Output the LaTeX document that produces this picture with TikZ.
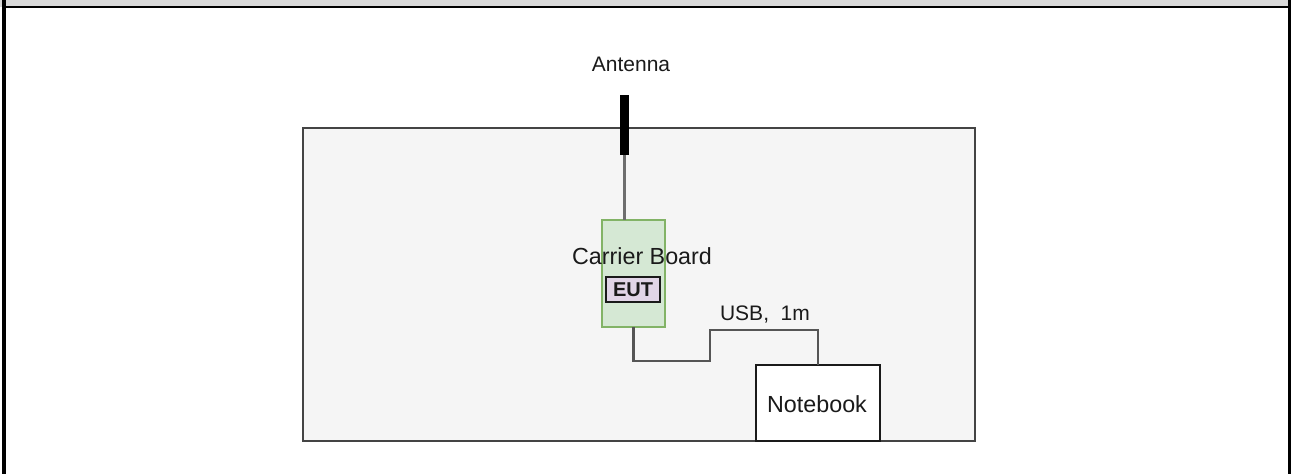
\documentclass[tikz,border=0pt]{standalone}
\usepackage{fontspec}
\setmainfont{Liberation Sans}
\usetikzlibrary{positioning}

\definecolor{roomfill}{HTML}{F5F5F5}
\definecolor{roomline}{HTML}{444444}
\definecolor{bandgray}{HTML}{D9D9D9}
\definecolor{boardfill}{HTML}{D5E8D4}
\definecolor{boardline}{HTML}{82B366}
\definecolor{eutfill}{HTML}{E1D5E7}
\definecolor{cablegray}{HTML}{555555}
\definecolor{feedgray}{HTML}{6E6E6E}
\definecolor{textdark}{HTML}{1A1A1A}

\begin{document}
\begin{tikzpicture}[x=1pt, y=-1pt,
    every node/.style={inner sep=0pt, outer sep=0pt, text=textdark},
    smalltxt/.style={font=\fontsize{21}{25}\selectfont, anchor=base},
    bigtxt/.style={font=\fontsize{23.3}{28}\selectfont, anchor=base},
    cable/.style={draw=cablegray, line width=2.6pt},
    room/.style={draw=roomline, fill=roomfill, line width=1.8pt,
                 minimum width=672pt, minimum height=313pt},
    board/.style={draw=boardline, fill=boardfill, line width=1.5pt,
                  minimum width=63pt, minimum height=107pt},
    eutbox/.style={draw=textdark, fill=eutfill, line width=1.8pt,
                   minimum width=54pt, minimum height=25pt,
                   font=\fontsize{20}{24}\selectfont\bfseries},
    notebook/.style={draw=textdark, fill=white, line width=1.8pt,
                     minimum width=124pt, minimum height=76pt}]
  \useasboundingbox (0,0) rectangle (1291,474);

  % page frame
  \fill[bandgray] (0,0) rectangle (1291,7);
  \fill[black] (2,6) rectangle (1288,8);
  \fill[black] (2,0) rectangle (6,474);
  \fill[black] (1288,0) rectangle (1291,474);

  % test room
  \node[room] (room) at (639,284.5) {};

  % carrier board with EUT
  \node[board] (board) at (633.5,273.5) {};
  \node[bigtxt] (boardtxt) at (642,264) {Carrier Board};
  \node[eutbox] (eut) at (633,289.5) {EUT};

  % antenna
  \node[fill=black, minimum width=9pt, minimum height=60pt] (ant) at (624.5,125) {};
  \node[smalltxt] (anttxt) at (631,71) {Antenna};
  \draw[draw=feedgray, line width=3pt] (ant.south) -- (ant.south |- board.north);

  % notebook and USB cable
  \node[notebook] (nb) at (818,403) {};
  \node[bigtxt] (nbtxt) at (817,412) {Notebook};
  \coordinate (kinka) at (710,361);
  \coordinate (kinkb) at (818,330);
  \draw[cable] (board.south) |- (kinka) |- (kinkb) -- (nb.north);
  \node[smalltxt] (usbtxt) at (765,320) {USB,\ \ 1m};
\end{tikzpicture}
\end{document}
